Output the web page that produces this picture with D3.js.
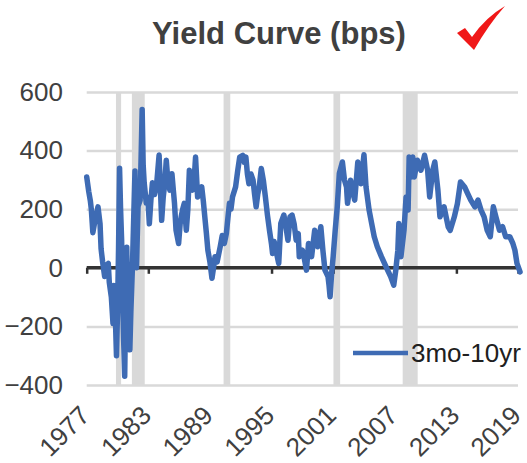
<!DOCTYPE html>
<html>
<head>
<meta charset="utf-8">
<script src="https://d3js.org/d3.v7.min.js"></script>
<style>
body{margin:0;background:#fff;}
svg text{font-family:"Liberation Sans",Arial,sans-serif;}
</style>
</head>
<body>
<svg id="chart" width="527" height="463"></svg>
<script>
// 3mo-10yr spread (decimal year, bps)
const dates = [1977.0,1977.2,1977.35,1977.45,1977.6,1977.75,1977.9,1978.1,1978.3,1978.4,1978.55,1978.75,1978.95,1979.1,1979.2,1979.4,1979.56,1979.65,1979.75,1979.9,
1980.0,1980.1,1980.2,1980.3,1980.4,1980.5,1980.6,1980.7,1980.8,1980.9,1981.0,1981.2,1981.3,1981.45,1981.6,1981.7,1981.85,1982.0,1982.2,1982.3,
1982.4,1982.5,1982.6,1982.8,1982.95,1983.1,1983.25,1983.4,1983.6,1983.8,1984.05,1984.3,1984.45,1984.6,1984.75,1984.9,1985.1,1985.3,1985.45,1985.55,
1985.7,1985.95,1986.1,1986.2,1986.35,1986.5,1986.7,1986.85,1987.0,1987.15,1987.3,1987.5,1987.6,1987.8,1988.0,1988.2,1988.35,1988.5,1988.65,1988.8,
1989.0,1989.2,1989.35,1989.5,1989.7,1990.0,1990.2,1990.4,1990.6,1990.75,1990.9,1991.05,1991.2,1991.5,1991.7,1991.9,1992.2,1992.35,1992.5,1992.65,
1992.8,1993.0,1993.2,1993.35,1993.5,1993.65,1993.8,1994.0,1994.2,1994.4,1994.6,1994.8,1995.0,1995.1,1995.25,1995.4,1995.55,1995.7,1995.9,1996.2,
1996.4,1996.6,1996.8,1997.0,1997.2,1997.4,1997.6,1997.7,1998.0,1998.2,1998.4,1998.6,1998.9,1999.2,1999.5,1999.8,2000.0,2000.2,2000.5,2000.6,
2000.7,2000.85,2001.0,2001.2,2001.4,2001.6,2001.9,2002.1,2002.3,2002.4,2002.7,2002.9,2003.1,2003.4,2003.7,2004.0,2004.2,2004.5,2004.75,2005.0,
2005.3,2005.7,2006.0,2006.3,2006.6,2006.9,2007.1,2007.3,2007.4,2007.6,2007.9,2008.1,2008.3,2008.4,2008.6,2008.75,2008.9,2009.2,2009.55,2009.9,
2010.2,2010.4,2010.7,2010.9,2011.2,2011.4,2011.6,2011.8,2012.2,2012.4,2012.8,2013.1,2013.4,2013.8,2014.1,2014.4,2014.8,2015.1,2015.4,2015.7,
2016.0,2016.3,2016.6,2016.85,2017.2,2017.5,2017.8,2018.2,2018.5,2018.7,2018.9,2019.2];
const spread = [310,260,230,200,120,150,175,208,150,65,20,-30,10,15,-50,-100,-190,-60,-120,-300,
-150,60,340,200,95,-100,-250,-370,-100,70,-130,-280,-150,0,200,330,0,210,230,380,
540,350,290,220,240,150,230,290,250,280,385,162,240,287,367,300,265,321,260,220,
128,83,150,174,200,220,128,200,333,290,265,320,378,242,250,276,230,174,120,60,
20,-36,0,38,20,72,110,83,117,170,220,200,242,276,330,378,384,360,378,320,
287,320,299,250,208,250,276,339,299,242,180,128,80,49,90,72,40,15,151,180,
140,94,174,180,150,94,117,38,60,30,-8,83,38,128,72,140,60,-8,-30,-60,
-99,-20,38,128,208,322,361,300,276,220,299,260,231,361,287,386,276,197,151,106,
72,38,15,-8,-30,-59,-8,60,151,38,128,242,197,378,310,378,310,367,333,384,
333,242,333,361,265,174,190,208,140,128,174,219,293,276,253,231,208,231,197,174,
128,106,208,174,128,140,106,106,83,60,15,-14];

// recession periods (shaded)
const recessions = [[1979.85,1980.35],[1981.4,1982.65],[1990.33,1990.98],[2001.03,2001.68],[2007.77,2009.23]];
const yTicks = [-400,-200,0,200,400,600];
const xTicks = [1977,1983,1989,1995,2001,2007,2013,2019];
const seriesName = "3mo-10yr";

const svg = d3.select("#chart");
const plotL = 86.7, plotR = 518, plotT = 92, plotB = 385;
const textColor = "#404040";
const blue = "#3e6bb4";

const x = d3.scaleLinear().domain([1977,2019]).range([plotL,plotR]);
const y = d3.scaleLinear().domain([-400,600]).range([plotB,plotT]);

// title
svg.append("text")
  .attr("x",279).attr("y",44)
  .attr("text-anchor","middle")
  .attr("font-size",31).attr("font-weight","bold")
  .attr("fill",textColor)
  .text("Yield Curve (bps)");

// red check mark
svg.append("path")
  .attr("d","M457,33 L465,28 L472,37 Q486,17 505,6 Q489,24 474,50 Z")
  .attr("fill","#f01818");

// gridlines
svg.append("g")
  .attr("transform","translate("+plotL+",0)")
  .call(d3.axisLeft(y).tickValues(yTicks).tickSize(-(plotR-plotL)).tickFormat(""))
  .call(g=>g.select(".domain").remove())
  .call(g=>g.selectAll("line").attr("stroke","#d9d9d9").attr("stroke-width",2.5));

// recession bars
svg.append("g").selectAll("rect")
  .data(recessions)
  .join("rect")
    .attr("x",d=>x(d[0]))
    .attr("width",d=>x(d[1])-x(d[0]))
    .attr("y",plotT)
    .attr("height",plotB-plotT)
    .attr("fill","#d9d9d9");

// y labels
svg.append("g")
  .attr("transform","translate(63,0)")
  .call(d3.axisLeft(y).tickValues(yTicks).tickSize(0).tickPadding(0))
  .call(g=>g.select(".domain").remove())
  .call(g=>g.selectAll("text").attr("font-size",26).attr("fill",textColor).attr("font-family","Liberation Sans, Arial, sans-serif"));

// zero axis with tick marks
svg.append("g")
  .attr("transform","translate(0,"+y(0)+")")
  .call(d3.axisBottom(x).tickValues(xTicks).tickSize(6).tickFormat(""))
  .call(g=>g.select(".domain").attr("d","M"+plotL+",0H"+plotR).attr("stroke","#333").attr("stroke-width",3.5))
  .call(g=>g.selectAll("line").attr("stroke","#333").attr("stroke-width",2.5));

// x labels, rotated
svg.append("g")
  .attr("transform","translate(0,"+plotB+")")
  .call(d3.axisBottom(x).tickValues(xTicks).tickSize(0).tickFormat(d3.format("d")))
  .call(g=>g.select(".domain").remove())
  .call(g=>g.selectAll("text")
    .attr("font-size",26).attr("fill",textColor)
    .attr("font-family","Liberation Sans, Arial, sans-serif")
    .attr("text-anchor","end")
    .attr("dy",0).attr("y",0)
    .attr("transform","translate(4,32) rotate(-45)"));

// the series
const line = d3.line()
  .x((d,i)=>x(dates[i]))
  .y(d=>y(d));

svg.append("path")
  .datum(spread)
  .attr("d",line)
  .attr("fill","none")
  .attr("stroke",blue)
  .attr("stroke-width",5.5)
  .attr("stroke-linejoin","round")
  .attr("stroke-linecap","round");

// legend
svg.append("line")
  .attr("x1",353).attr("x2",408)
  .attr("y1",353).attr("y2",353)
  .attr("stroke",blue).attr("stroke-width",4.5);
svg.append("text")
  .attr("x",411).attr("y",362)
  .attr("font-size",26).attr("fill","#202020")
  .text(seriesName);
</script>
</body>
</html>
